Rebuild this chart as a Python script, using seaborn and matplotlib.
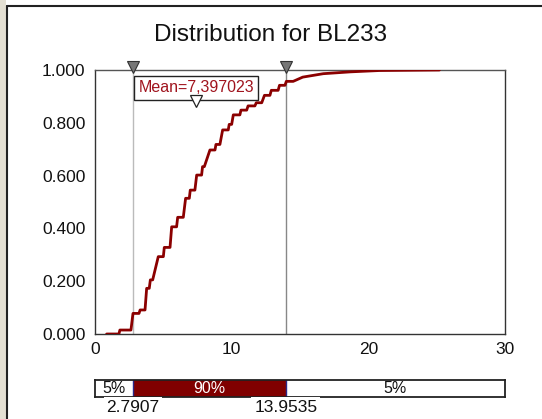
import numpy as np
import pandas as pd
import matplotlib
matplotlib.use("Agg")
import matplotlib.pyplot as plt
from matplotlib.lines import Line2D
from matplotlib.patches import Rectangle
import seaborn as sns

# ---- data ----
plateau_level = [0.000, 0.015, 0.078, 0.091, 0.173, 0.205, 0.293, 0.328, 0.406, 0.442,
                 0.514, 0.545, 0.602, 0.634, 0.697, 0.718, 0.773, 0.794, 0.830, 0.848,
                 0.864, 0.876, 0.904, 0.923, 0.942, 0.957]
plateau_start = [0.85, 1.82, 2.78, 3.30, 3.78, 4.05, 4.63, 5.07, 5.61, 6.05,
                 6.63, 6.97, 7.44, 7.87, 8.41, 8.85, 9.34, 9.82, 10.12, 10.68,
                 11.20, 11.80, 12.40, 12.90, 13.50, 14.00]
plateau_end = [1.75, 2.63, 3.22, 3.66, 3.97, 4.22, 5.00, 5.49, 5.97, 6.46,
               6.90, 7.31, 7.80, 8.00, 8.78, 9.14, 9.75, 10.00, 10.60, 11.10,
               11.70, 12.20, 12.80, 13.40, 13.90, 14.50]
tail_x = [15.2, 16.7, 18.7, 20.8, 25.2]
tail_y = [0.973, 0.986, 0.993, 0.998, 1.000]

title = "Distribution for BL233"
mean_value = 7.397023
mean_label = "Mean=7,397023"
p5 = 2.7907
p95 = 13.9535
p_labels = ["2.7907", "13.9535"]
band_labels = ["5%", "90%", "5%"]
y_ticks = [0.0, 0.2, 0.4, 0.6, 0.8, 1.0]
x_ticks = [0, 10, 20, 30]

# ---- build curve table ----
xs, ys = [], []
for lv, s, e in zip(plateau_level, plateau_start, plateau_end):
    xs += [s, e]
    ys += [lv, lv]
xs += tail_x
ys += tail_y
df = pd.DataFrame({"x": xs, "cdf": ys})

sns.set_style("white")
plt.rcParams["font.family"] = ["Liberation Sans", "DejaVu Sans"]

W, H = 542, 419
fig = plt.figure(figsize=(W / 100, H / 100), dpi=100)
fig.patch.set_facecolor("white")

# left textured stripe and frame
fig.add_artist(Rectangle((0, 0), 6 / W, 1, transform=fig.transFigure,
                         facecolor="#e4e0d3", edgecolor="none", zorder=0))
fig.add_artist(Line2D([6.5 / W, 6.5 / W], [0, 1 - 6 / H], transform=fig.transFigure,
                      color="#222222", lw=1.5))
fig.add_artist(Line2D([6.5 / W, 1], [1 - 6.5 / H, 1 - 6.5 / H], transform=fig.transFigure,
                      color="#222222", lw=1.5))

ax = fig.add_axes([95 / W, 1 - 334 / H, 410 / W, 264 / H])
sns.lineplot(data=df, x="x", y="cdf", sort=False, estimator=None, ax=ax,
             color="#8b0000", lw=2.0, zorder=3)
ax.set_xlim(0, 30)
ax.set_ylim(0, 1)
ax.set_xticks(x_ticks)
ax.set_yticks(y_ticks)
ax.set_yticklabels([f"{v:.3f}" for v in y_ticks])
ax.set_xlabel("")
ax.set_ylabel("")
ax.tick_params(axis="both", labelsize=12.5, colors="#111111", length=6,
               direction="inout", width=1, pad=3)
ax.tick_params(axis="y", length=4, pad=5)
for side, sp in ax.spines.items():
    sp.set_visible(True)
    sp.set_color("#333333")
    sp.set_linewidth(1.0)
ax.spines["top"].set_color("#555555")

ax.axvline(p5, color="#bbbbbb", lw=1.0, zorder=1)
ax.axvline(p95, color="#888888", lw=1.0, zorder=1)
ax.plot([p5, p95], [1.012, 1.012], linestyle="none", marker="v", markersize=8,
        markerfacecolor="#777777", markeredgecolor="#333333", markeredgewidth=0.8,
        clip_on=False, zorder=5)

ax.text(mean_value, 0.932, mean_label, ha="center", va="center", fontsize=11.5,
        color="#a0141e", zorder=6,
        bbox=dict(boxstyle="square,pad=0.28", facecolor="white", edgecolor="#222222", lw=1))
ax.plot([mean_value], [0.884], linestyle="none", marker="v", markersize=9,
        markerfacecolor="white", markeredgecolor="#222222", markeredgewidth=0.9,
        clip_on=False, zorder=7)

fig.text(271 / W, 1 - 35 / H, title, ha="center", va="center", fontsize=17.5, color="#111111")

# ---- percentile band ----
axb = fig.add_axes([95 / W, 1 - 397 / H, 410 / W, 17 / H])
widths = [p5, p95 - p5, 30 - p95]
lefts = [0, p5, p95]
colors = ["white", "#800000", "white"]
axb.barh([0, 0, 0], widths, left=lefts, height=1, color=colors, edgecolor="none")
axb.set_xlim(0, 30)
axb.set_ylim(-0.5, 0.5)
axb.set_xticks([])
axb.set_yticks([])
for sp in axb.spines.values():
    sp.set_visible(True)
    sp.set_color("#222222")
    sp.set_linewidth(1.3)
for xv in [p5, p95]:
    axb.axvline(xv, color="#2a2a8a", lw=1.0)
text_colors = ["#111111", "white", "#111111"]
for l, w, lab, tc in zip(lefts, widths, band_labels, text_colors):
    axb.text(l + w / 2, 0.0, lab, ha="center", va="center", fontsize=11.5, color=tc)
for xv, lab in zip([p5, p95], p_labels):
    axb.text(xv, -1.1, lab, ha="center", va="center", fontsize=12.5, color="#111111",
             clip_on=False, zorder=10,
             bbox=dict(boxstyle="square,pad=0.16", facecolor="white", edgecolor="none"))

fig.savefig("out.png", dpi=100, facecolor="white")
